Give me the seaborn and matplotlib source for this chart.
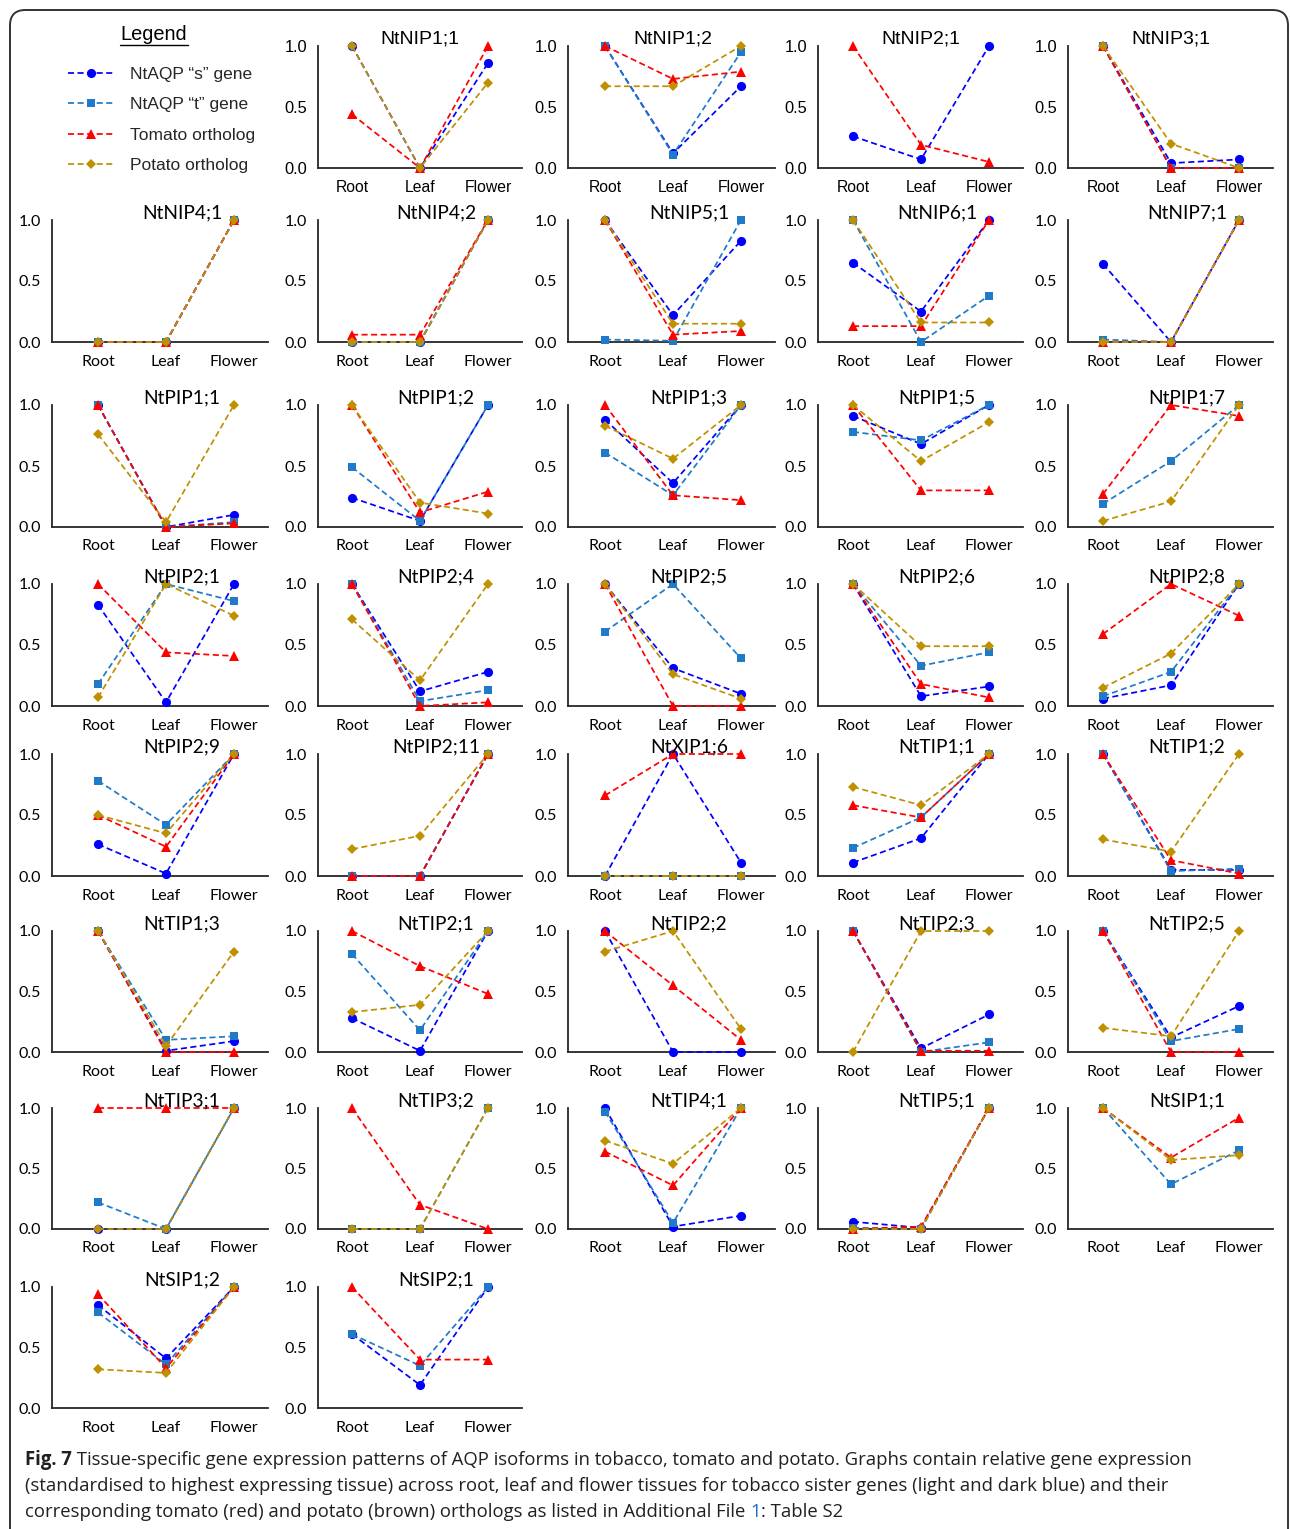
import numpy as np
import pandas as pd
import matplotlib
matplotlib.use("Agg")
import matplotlib.pyplot as plt
import seaborn as sns
from matplotlib.lines import Line2D
from matplotlib.patches import FancyBboxPatch

# ---------------- data ----------------
TISSUES = ["Root", "Leaf", "Flower"]
GENES = ["NtNIP1;1", "NtNIP1;2", "NtNIP2;1", "NtNIP3;1",
         "NtNIP4;1", "NtNIP4;2", "NtNIP5;1", "NtNIP6;1", "NtNIP7;1",
         "NtPIP1;1", "NtPIP1;2", "NtPIP1;3", "NtPIP1;5", "NtPIP1;7",
         "NtPIP2;1", "NtPIP2;4", "NtPIP2;5", "NtPIP2;6", "NtPIP2;8",
         "NtPIP2;9", "NtPIP2;11", "NtXIP1;6", "NtTIP1;1", "NtTIP1;2",
         "NtTIP1;3", "NtTIP2;1", "NtTIP2;2", "NtTIP2;3", "NtTIP2;5",
         "NtTIP3;1", "NtTIP3;2", "NtTIP4;1", "NtTIP5;1", "NtSIP1;1",
         "NtSIP1;2", "NtSIP2;1"]
N = np.nan
NA = [N, N, N]
S_GENE = [[1.0, 0.0, 0.86], [1.0, 0.12, 0.67], [0.26, 0.07, 1.0], [1.0, 0.04, 0.07],
          [0.0, 0.0, 1.0], [0.0, 0.0, 1.0], [1.0, 0.22, 0.83], [0.65, 0.25, 1.0], [0.64, 0.0, 1.0],
          [1.0, 0.0, 0.10], [0.24, 0.05, 1.0], [0.88, 0.36, 1.0], [0.91, 0.68, 1.0], NA,
          [0.83, 0.03, 1.0], [1.0, 0.12, 0.28], [1.0, 0.31, 0.10], [1.0, 0.08, 0.16], [0.06, 0.17, 1.0],
          [0.26, 0.02, 1.0], [0.0, 0.0, 1.0], [0.0, 1.0, 0.11], [0.11, 0.31, 1.0], [1.0, 0.05, 0.05],
          [1.0, 0.01, 0.09], [0.28, 0.01, 1.0], [1.0, 0.0, 0.0], [1.0, 0.03, 0.31], [1.0, 0.12, 0.38],
          [0.0, 0.0, 1.0], NA, [1.0, 0.02, 0.11], [0.06, 0.01, 1.0], NA,
          [0.85, 0.41, 1.0], [0.61, 0.19, 1.0]]
T_GENE = [NA, [1.0, 0.11, 0.95], NA, [1.0, 0.0, 0.0],
          [0.0, 0.0, 1.0], [0.0, 0.0, 1.0], [0.02, 0.01, 1.0], [1.0, 0.0, 0.38], [0.02, 0.0, 1.0],
          [1.0, 0.0, 0.04], [0.49, 0.05, 1.0], [0.61, 0.26, 1.0], [0.78, 0.71, 1.0], [0.19, 0.54, 1.0],
          [0.18, 1.0, 0.86], [1.0, 0.04, 0.13], [0.61, 1.0, 0.39], [1.0, 0.33, 0.44], [0.08, 0.28, 1.0],
          [0.78, 0.42, 1.0], [0.0, 0.0, 1.0], [0.0, 0.0, 0.0], [0.23, 0.48, 1.0], [1.0, 0.04, 0.06],
          [1.0, 0.10, 0.13], [0.81, 0.18, 1.0], NA, [1.0, 0.0, 0.08], [1.0, 0.09, 0.19],
          [0.22, 0.0, 1.0], [0.0, 0.0, 1.0], [0.97, 0.05, 1.0], [0.01, 0.0, 1.0], [1.0, 0.37, 0.65],
          [0.79, 0.36, 1.0], [0.61, 0.35, 1.0]]
TOMATO = [[0.44, 0.0, 1.0], [1.0, 0.73, 0.79], [1.0, 0.19, 0.05], [1.0, 0.0, 0.0],
          [0.0, 0.0, 1.0], [0.06, 0.06, 1.0], [1.0, 0.06, 0.09], [0.13, 0.13, 1.0], [0.0, 0.0, 1.0],
          [1.0, 0.0, 0.03], [1.0, 0.12, 0.29], [1.0, 0.26, 0.22], [1.0, 0.30, 0.30], [0.27, 1.0, 0.91],
          [1.0, 0.44, 0.41], [1.0, 0.0, 0.03], [1.0, 0.0, 0.0], [1.0, 0.18, 0.07], [0.59, 1.0, 0.74],
          [0.50, 0.24, 1.0], [0.0, 0.0, 1.0], [0.66, 1.0, 1.0], [0.58, 0.48, 1.0], [1.0, 0.13, 0.02],
          [1.0, 0.0, 0.0], [1.0, 0.71, 0.48], [1.0, 0.55, 0.10], [1.0, 0.01, 0.01], [1.0, 0.0, 0.0],
          [1.0, 1.0, 1.0], [1.0, 0.20, 0.0], [0.64, 0.36, 1.0], [0.0, 0.02, 1.0], [1.0, 0.59, 0.92],
          [0.94, 0.33, 1.0], [1.0, 0.40, 0.40]]
POTATO = [[1.0, 0.0, 0.70], [0.67, 0.67, 1.0], NA, [1.0, 0.20, 0.0],
          [0.0, 0.0, 1.0], [0.0, 0.0, 1.0], [1.0, 0.15, 0.15], [1.0, 0.16, 0.16], [0.0, 0.0, 1.0],
          [0.76, 0.04, 1.0], [1.0, 0.20, 0.11], [0.83, 0.56, 1.0], [1.0, 0.54, 0.86], [0.05, 0.21, 1.0],
          [0.07, 1.0, 0.74], [0.71, 0.21, 1.0], [1.0, 0.26, 0.06], [1.0, 0.49, 0.49], [0.15, 0.43, 1.0],
          [0.50, 0.35, 1.0], [0.22, 0.33, 1.0], [0.0, 0.0, 0.0], [0.73, 0.58, 1.0], [0.30, 0.20, 1.0],
          [1.0, 0.05, 0.83], [0.33, 0.39, 1.0], [0.83, 1.0, 0.19], [0.0, 1.0, 1.0], [0.20, 0.13, 1.0],
          [0.0, 0.0, 1.0], [0.0, 0.0, 1.0], [0.73, 0.54, 1.0], [0.0, 0.0, 1.0], [1.0, 0.57, 0.61],
          [0.32, 0.29, 1.0], NA]
SERIES_LABELS = ["NtAQP \u201cs\u201d gene", "NtAQP \u201ct\u201d gene",
                 "Tomato ortholog", "Potato ortholog"]

# ---------------- style ----------------
sns.set_style("white")
plt.rcParams["font.family"] = ["Lato", "DejaVu Sans"]

COLORS = ["#0000FF", "#1F7AC8", "#FF0000", "#BF9000"]
MARKERS = ["o", "s", "^", "D"]
MSIZES = [6.6, 6.0, 6.6, 5.2]
DASH = (3.5, 2.0)
AXCOL = "#262626"

W, H = 1290, 1529
fig = plt.figure(figsize=(W / 100, H / 100), dpi=100)

def fx(px):
    return px / W

def fy(py):
    return 1 - py / H

# axes geometry (pixels)
COL_LEFT = [52, 318, 568, 818, 1068]
COL_ROOT = [98, 352, 605, 853, 1103]
STEP = 68
RIGHT_PAD = 34
ROW_TOP = [46, 220, 405, 584, 754, 931, 1108, 1287]
ROW_BOT = [168, 342, 527, 706, 876, 1052, 1229, 1408]

all_series = [S_GENE, T_GENE, TOMATO, POTATO]

for gi, gene in enumerate(GENES):
    slot = gi + 1
    r, c = divmod(slot, 5)
    left = COL_LEFT[c]
    root = COL_ROOT[c]
    right = root + 2 * STEP + RIGHT_PAD
    top, bot = ROW_TOP[r], ROW_BOT[r]
    ax = fig.add_axes([fx(left), fy(bot), fx(right - left), (bot - top) / H])
    fam = ["Liberation Sans", "DejaVu Sans"] if r == 0 else ["Lato", "DejaVu Sans"]

    for si, ser in enumerate(all_series):
        vals = ser[gi]
        if np.all(np.isnan(vals)):
            continue
        df = pd.DataFrame({"x": [0, 1, 2], "value": vals}).dropna()
        sns.lineplot(data=df, x="x", y="value", ax=ax, color=COLORS[si],
                     marker=MARKERS[si], markersize=MSIZES[si],
                     markeredgewidth=0, linewidth=1.25, dashes=DASH,
                     sort=False, estimator=None, legend=False, clip_on=False,
                     zorder=3 + si)

    ax.set_xlim(-(root - left) / STEP, 2 + RIGHT_PAD / STEP)
    ax.set_ylim(0, 1)
    ax.set_xlabel("")
    ax.set_ylabel("")
    ax.set_xticks([0, 1, 2])
    ax.set_xticklabels(TISSUES, family=fam, fontsize=11.5 if r else 11.3)
    ax.set_yticks([0, 0.5, 1.0])
    ax.set_yticklabels(["0.0", "0.5", "1.0"], family=fam, fontsize=11.5 if r else 11.8)
    ax.tick_params(axis="x", length=0, pad=9, colors="black")
    ax.tick_params(axis="y", length=4, width=1.1, direction="out", pad=4,
                   colors=AXCOL, labelcolor="black")
    for side in ["top", "right"]:
        ax.spines[side].set_visible(False)
    for side in ["left", "bottom"]:
        ax.spines[side].set_color(AXCOL)
        ax.spines[side].set_linewidth(1.3)
    ax.patch.set_alpha(0)
    ax.grid(False)

    # panel title
    leaf_px = root + STEP
    tx = leaf_px + (0 if r == 0 else 16)
    ty = top - 7
    fig.text(fx(tx), fy(ty), gene, ha="center", va="center",
             family=fam, fontsize=14 if r == 0 else 13.8, color="black")

# ---------------- legend panel ----------------
handles = [Line2D([], [], color=COLORS[i], marker=MARKERS[i], markersize=MSIZES[i],
                  markeredgewidth=0, linewidth=1.25, dashes=DASH)
           for i in range(4)]
leg = fig.legend(handles, SERIES_LABELS, loc="upper left",
                 bbox_to_anchor=(fx(68), fy(67)), frameon=False,
                 prop={"family": ["Liberation Sans", "DejaVu Sans"], "size": 12.5},
                 handlelength=2.6, handletextpad=1.0, labelspacing=0.87,
                 borderpad=0, borderaxespad=0, numpoints=1)
t_leg = fig.text(fx(154), fy(35), "Legend", ha="center", va="center",
                 family=["Liberation Sans", "DejaVu Sans"], fontsize=14.4, color="black")
fig.add_artist(Line2D([fx(120), fx(188)], [fy(45), fy(45)], color="black", linewidth=1.0))

# ---------------- caption ----------------
renderer = fig.canvas.get_renderer()
CAP_FS = 13.35
CAP_FAM = ["Open Sans", "DejaVu Sans"]
CAP_COL = "#231F20"

def put(x_px, y_px, s, **kw):
    t = fig.text(fx(x_px), fy(y_px), s, ha="left", va="center",
                 family=CAP_FAM, fontsize=CAP_FS, color=kw.pop("color", CAP_COL), **kw)
    bb = t.get_window_extent(renderer=renderer)
    return x_px + bb.width

x = put(25, 1460, "Fig. 7", weight="bold")
put(x, 1460, " Tissue-specific gene expression patterns of AQP isoforms in tobacco, tomato and potato. Graphs contain relative gene expression")
put(25, 1486, "(standardised to highest expressing tissue) across root, leaf and flower tissues for tobacco sister genes (light and dark blue) and their")
x = put(25, 1512, "corresponding tomato (red) and potato (brown) orthologs as listed in Additional File ")
x = put(x, 1512, "1", color="#1F6FC0")
put(x, 1512, ": Table S2")

# ---------------- rounded border ----------------
border = FancyBboxPatch((fx(10), fy(1600)), fx(1288 - 10), (1600 - 10) / H,
                        boxstyle="round,pad=0,rounding_size=0.012",
                        transform=fig.transFigure, facecolor="none",
                        edgecolor="#333333", linewidth=1.4, mutation_aspect=W / H)
fig.add_artist(border)

fig.savefig("out.png", dpi=100, facecolor="white")
